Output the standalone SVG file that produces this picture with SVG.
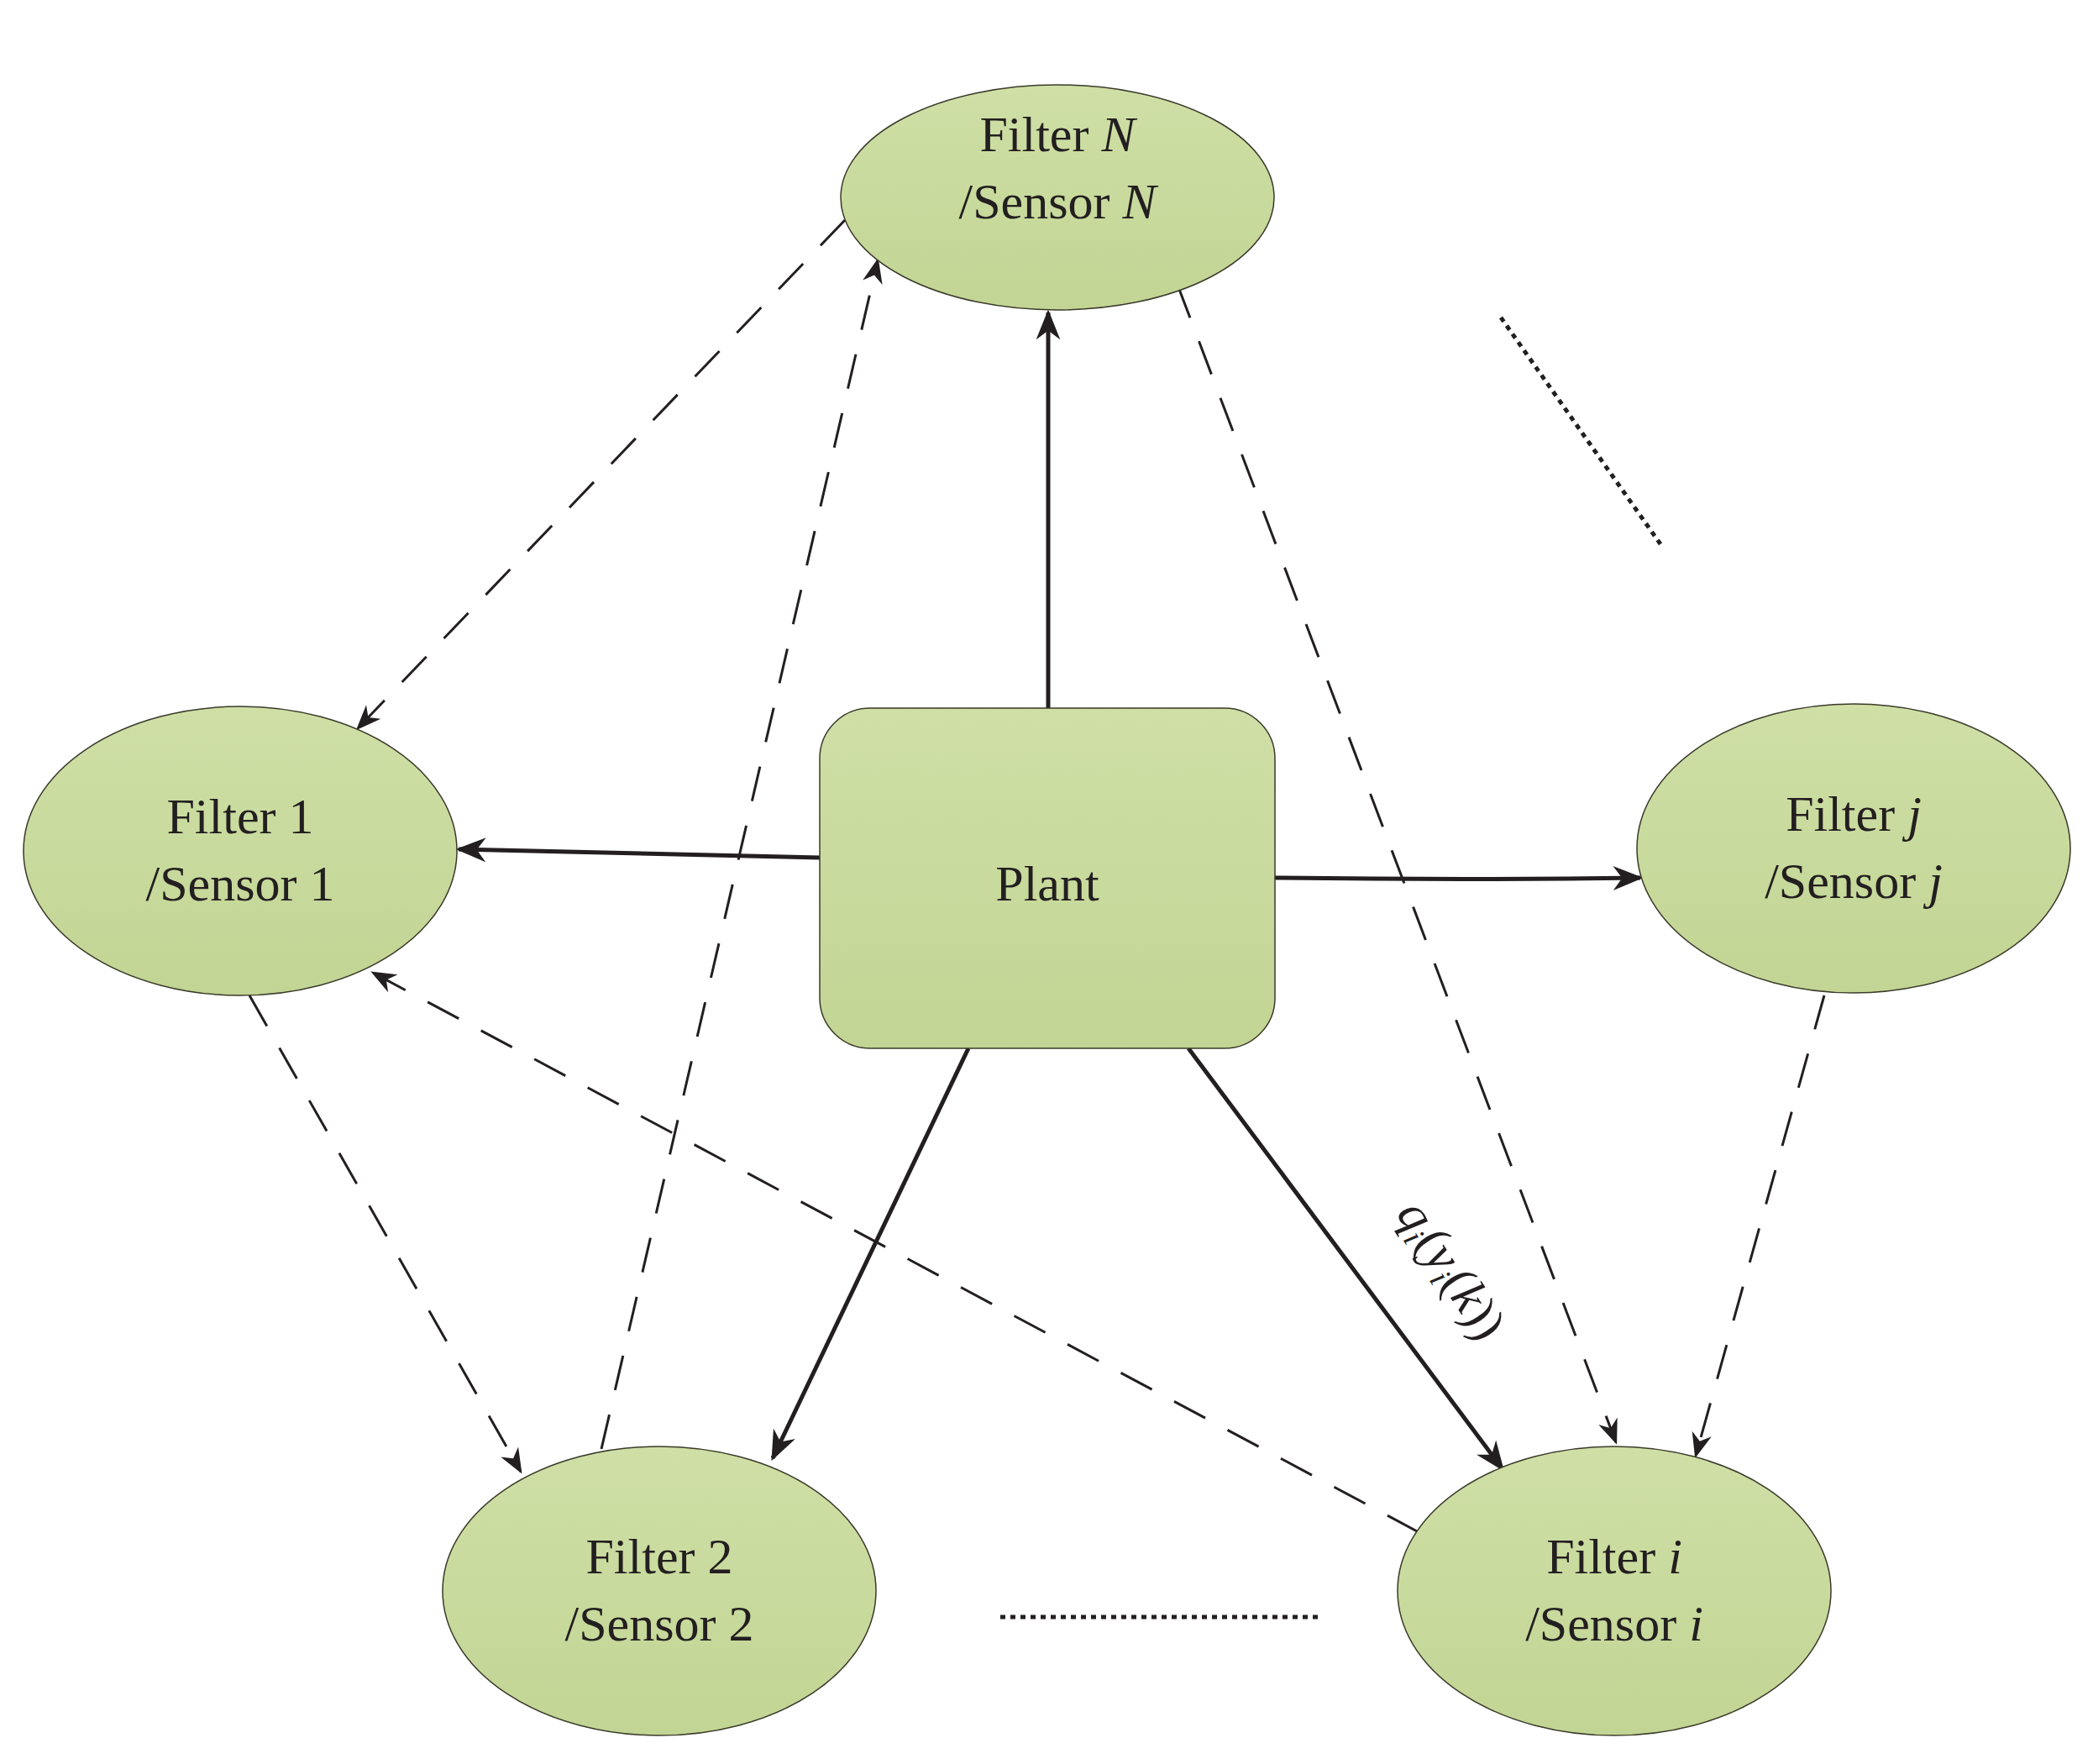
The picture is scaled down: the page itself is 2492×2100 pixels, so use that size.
<svg xmlns="http://www.w3.org/2000/svg" width="2492" height="2100" viewBox="0 0 2492 2100">
<defs>
<linearGradient id="g" x1="0" y1="0" x2="0" y2="1"><stop offset="0" stop-color="#cfdfa6"/><stop offset="1" stop-color="#c2d594"/></linearGradient>
<marker id="a" viewBox="0 0 10 10" refX="9" refY="5" markerWidth="11" markerHeight="11" markerUnits="userSpaceOnUse" orient="auto"><path d="M0,0 L10,5 L0,10 L3,5 Z" fill="#231f20"/></marker>
<marker id="b" viewBox="0 0 10 10" refX="9" refY="5" markerWidth="30" markerHeight="30" markerUnits="userSpaceOnUse" orient="auto"><path d="M0,1 L10,5 L0,9 L3,5 Z" fill="#231f20"/></marker>
<marker id="s" viewBox="0 0 10 10" refX="9" refY="5" markerWidth="36" markerHeight="36" markerUnits="userSpaceOnUse" orient="auto"><path d="M0,1 L10,5 L0,9 L3,5 Z" fill="#231f20"/></marker>
</defs>
<style>
.n{fill:url(#g);stroke:#3a3a2a;stroke-width:1.5}
.t{font-family:"Liberation Serif",serif;font-size:60px;fill:#231f20;text-anchor:middle}
.sol{stroke:#231f20;stroke-width:5;fill:none;marker-end:url(#s)}
.das{stroke:#231f20;stroke-width:3;fill:none;stroke-dasharray:42,30;marker-end:url(#b)}
.dot{stroke:#231f20;stroke-width:5;fill:none;stroke-dasharray:6,6}
</style>
<rect width="2492" height="2100" fill="#fff"/>
<g id="connectors">
<path class="sol" d="M1248,843 L1248,372"/>
<path class="sol" d="M976,1021 L546,1011"/>
<path class="sol" d="M1518,1045 Q1750,1048 1953,1045"/>
<path class="sol" d="M1153,1248 L920,1736"/>
<path class="sol" d="M1415,1248 L1789,1749"/>
<path class="das" d="M1006,262 L426,867"/>
<path class="das" d="M716,1725 L1045,310"/>
<path class="das" d="M1402,339 L1924,1717"/>
<path class="das" d="M297,1185 L620,1752"/>
<path class="das" d="M1689,1824 L444,1158"/>
<path class="das" d="M2172,1185 L2019,1733"/>
<path class="dot" d="M1787,378 L1980,652"/>
<path class="dot" d="M1191,1925 L1571,1925"/>
<text class="t" transform="translate(1712,1522) rotate(57)" font-style="italic" font-size="60">q<tspan font-size="38" dy="10">i</tspan><tspan dy="-10" font-style="normal">(</tspan>y<tspan font-size="38" dy="10">i</tspan><tspan dy="-10" font-style="normal">(</tspan>k<tspan font-style="normal">))</tspan></text>
</g>
<g id="plant"><rect class="n" x="976" y="843" width="542" height="405" rx="60"/><text class="t" x="1247" y="1072" font-size="80">Plant</text></g>
<g id="nodeN"><ellipse class="n" cx="1259" cy="235" rx="258" ry="134"/><text class="t" x="1259" y="180">Filter <tspan font-style="italic">N</tspan></text><text class="t" x="1259" y="260">/Sensor <tspan font-style="italic">N</tspan></text></g>
<g id="node1"><ellipse class="n" cx="286" cy="1013" rx="258" ry="172"/><text class="t" x="286" y="992">Filter 1</text><text class="t" x="286" y="1072">/Sensor 1</text></g>
<g id="nodej"><ellipse class="n" cx="2207" cy="1010" rx="258" ry="172"/><text class="t" x="2207" y="989">Filter <tspan font-style="italic">j</tspan></text><text class="t" x="2207" y="1069">/Sensor <tspan font-style="italic">j</tspan></text></g>
<g id="node2"><ellipse class="n" cx="785" cy="1894" rx="258" ry="172"/><text class="t" x="785" y="1873">Filter 2</text><text class="t" x="785" y="1953">/Sensor 2</text></g>
<g id="nodei"><ellipse class="n" cx="1922" cy="1894" rx="258" ry="172"/><text class="t" x="1922" y="1873">Filter <tspan font-style="italic">i</tspan></text><text class="t" x="1922" y="1953">/Sensor <tspan font-style="italic">i</tspan></text></g>
</svg>
